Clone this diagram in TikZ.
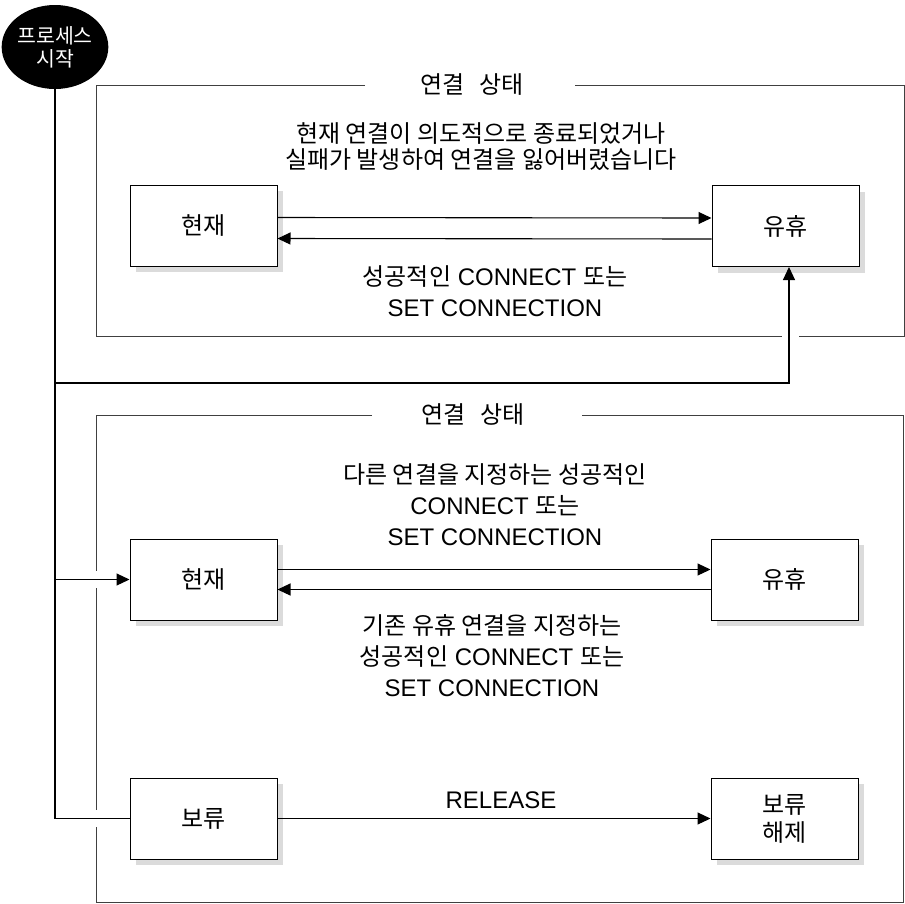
\documentclass[tikz,border=0pt]{standalone}
\usepackage{fontspec}
\setmainfont{Liberation Sans}
\newfontfamily\krfont{Noto Sans CJK KR}
\usetikzlibrary{arrows.meta,shapes.geometric}

\newcommand\kr[1]{{\fontsize{24}{31}\selectfont\krfont #1}}

\tikzset{
	statebox/.style={draw, line width=1pt, fill=white, minimum width=147pt,
		minimum height=81pt, inner sep=0pt, align=center,
		font=\fontsize{24}{28}\selectfont\krfont,
		preaction={fill=black!14, transform canvas={xshift=6pt, yshift=-6pt}}},
	note/.style={align=center, inner sep=0pt, font=\fontsize{24}{31}\selectfont},
	outline/.style={draw=black!75, line width=1pt},
	conn/.style={line width=1.1pt},
	arr/.style={conn, -{Triangle[length=13pt,width=12pt]}}
}

\begin{document}
\begin{tikzpicture}[x=1pt,y=-1pt]
	\useasboundingbox (0,0) rectangle (905,903);

	% the two frames, open where a line runs through
	\draw[outline] (365,85) -- (96,85) -- (96,336) -- (782,336);
	\draw[outline] (799,336) -- (904,336) -- (904,85) -- (575,85);
	\draw[outline] (372,415) -- (96,415) -- (96,571);
	\draw[outline] (96,588) -- (96,810);
	\draw[outline] (96,827) -- (96,902) -- (903,902) -- (903,415) -- (582,415);

	\node[note] (title1) at (472,85) {\kr{연결\hspace{10pt} 상태}};
	\node[note] (title2) at (473,415) {\kr{연결\hspace{10pt} 상태}};

	\node[ellipse, fill=black, minimum width=104pt, minimum height=84pt,
		inner sep=0pt, text=white, align=center,
		font=\fontsize{20.5}{23}\selectfont\krfont] (start) at (55,47) {프로세스\\시작};

	\node[statebox] (cur1) at (203.5,225.5) {현재};
	\node[statebox] (idle1) at (785.5,226) {유휴};
	\node[statebox] (cur2) at (203.5,579.5) {현재};
	\node[statebox] (idle2) at (784.5,579.5) {유휴};
	\node[statebox] (held) at (203.5,818.5) {보류};
	\node[statebox] (free) at (784.5,818.5) {보류\\해제};

	\node[note] (lost) at (481,147) {\kr{현재 연결이 의도적으로 종료되었거나}\\[-5pt]\kr{실패가 발생하여 연결을 잃어버렸습니다}};
	\node[note] (back1) at (495,291) {\kr{성공적인} CONNECT \kr{또는}\\SET CONNECTION};
	\node[note] (other) at (495,505) {\kr{다른 연결을 지정하는 성공적인}\\CONNECT \kr{또는}\\SET CONNECTION};
	\node[note] (back2) at (492,656) {\kr{기존 유휴 연결을 지정하는}\\\kr{성공적인} CONNECT \kr{또는}\\SET CONNECTION};
	\node[note] (release) at (501,800) {RELEASE};

	\draw[arr] ([yshift=8pt]cur1.east) -- ([yshift=8pt]idle1.west);
	\draw[arr] ([yshift=-13pt]idle1.west) -- ([yshift=-13pt]cur1.east);
	\draw[arr] ([yshift=10pt]cur2.east) -- ([yshift=10pt]idle2.west);
	\draw[arr] ([yshift=-10pt]idle2.west) -- ([yshift=-10pt]cur2.east);
	\draw[arr] (held.east) -- (free.west);

	\coordinate (turn) at (789,383);
	\draw[conn] (start.south) -- (start.south |- held.west) -- (held.west);
	\draw[arr] (start.south |- cur2.west) -- (cur2.west);
	\draw[arr] (start.south |- turn) -- (turn) -- (turn |- idle1.south);
\end{tikzpicture}
\end{document}
